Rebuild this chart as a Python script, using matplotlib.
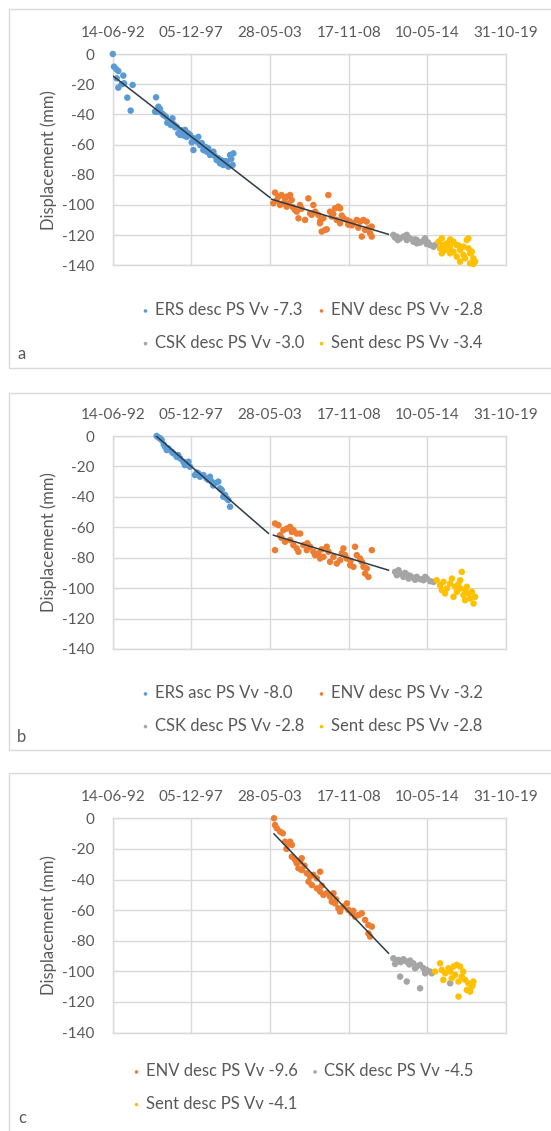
import matplotlib
matplotlib.use("Agg")
import matplotlib.pyplot as plt
from matplotlib.patches import Rectangle
from datetime import datetime
import numpy as np

plt.rcParams['font.family'] = ['Lato', 'DejaVu Sans']
plt.rcParams['axes.unicode_minus'] = False

# ---------------- data ----------------
tick_dates = ['14-06-92', '05-12-97', '28-05-03', '17-11-08', '10-05-14', '31-10-19']
y_ticks = [0, -20, -40, -60, -80, -100, -120, -140]
y_tick_labels = ['0', '-20', '-40', '-60', '-80', '-100', '-120', '-140']
colors = {'ERS': '#5B9BD5', 'ENV': '#ED7D31', 'CSK': '#A5A5A5', 'Sent': '#FFC000'}
trend_color = '#2E3A46'

# Panel a
a_labels = ['ERS desc PS Vv -7.3', 'ENV desc PS Vv -2.8', 'CSK desc PS Vv -3.0', 'Sent desc PS Vv -3.4']
a_ers_t = [1992.46, 1992.54, 1992.68, 1992.84, 1992.73, 1992.84, 1993.19, 1993.24, 1993.07, 1993.47,
           1993.70, 1993.84, 1995.47, 1995.40, 1995.63, 1995.74, 1995.56, 1996.15, 1996.38, 1996.61,
           1996.49, 1996.90, 1997.02, 1997.14, 1997.49, 1997.60, 1997.83, 1998.07, 1998.41, 1998.30,
           1998.07, 1998.53, 1998.76, 1999.00, 1999.23, 1999.46, 1999.69, 1999.92, 2000.15, 2000.39,
           2000.62, 2000.85, 2000.80, 2000.50, 1996.00, 1996.70, 1997.30, 1997.70, 1998.20, 1998.90,
           1999.10, 1999.55, 1999.80, 2000.05, 2000.30, 2000.70, 1995.90, 1996.25, 1997.95, 1998.65,
           1997.40, 1997.20, 1998.10, 1999.35, 2000.00, 1996.80]
a_ers_v = [0.0, -8.4, -9.9, -11.3, -16.1, -22.3, -14.3, -19.4, -20.0, -28.9,
           -37.5, -20.5, -28.7, -38.2, -34.9, -36.4, -38.2, -41.5, -44.8, -42.6,
           -47.0, -48.1, -52.5, -53.6, -50.3, -54.9, -53.6, -55.8, -54.9, -58.0,
           -63.6, -60.3, -63.6, -64.7, -66.9, -64.7, -70.2, -72.4, -73.5, -71.3,
           -66.9, -65.8, -73.5, -74.6, -40.5, -46.5, -51.0, -52.5, -57.0, -61.5,
           -62.5, -67.5, -69.0, -70.5, -71.0, -69.5, -39.5, -45.5, -58.5, -59.0,
           -54.0, -50.5, -56.5, -65.5, -72.0, -48.5]
a_env_t = [2003.75, 2003.63, 2003.98, 2004.20, 2004.45, 2004.56, 2004.80, 2004.91, 2004.10, 2004.33,
           2004.56, 2005.14, 2005.26, 2005.49, 2005.38, 2005.84, 2006.07, 2006.42, 2006.19, 2006.54,
           2006.77, 2006.88, 2007.00, 2007.23, 2007.35, 2007.46, 2007.12, 2007.58, 2007.70, 2007.93,
           2008.16, 2008.28, 2008.05, 2008.28, 2008.51, 2008.74, 2008.97, 2009.20, 2009.44, 2009.67,
           2009.90, 2010.13, 2009.79, 2010.02, 2010.25, 2010.37, 2010.48, 2010.48, 2003.85, 2005.60,
           2006.30, 2008.40, 2009.10, 2009.55, 2004.70, 2005.00, 2006.90, 2007.80, 2008.85]
a_env_v = [-91.8, -98.9, -94.5, -93.4, -95.6, -94.5, -93.4, -96.7, -100.0, -98.9,
           -101.1, -103.3, -104.4, -100.0, -108.8, -109.9, -95.6, -100.0, -105.5, -104.4,
           -106.6, -112.1, -117.6, -116.5, -116.1, -93.4, -108.8, -104.4, -107.7, -102.2,
           -101.1, -102.2, -109.9, -112.1, -108.8, -109.9, -111.0, -112.1, -109.9, -111.0,
           -109.9, -111.0, -120.9, -116.5, -115.4, -118.7, -114.3, -120.9, -97.0, -102.5,
           -106.5, -107.0, -113.5, -115.0, -99.0, -101.5, -110.5, -106.0, -113.0]
a_csk_t = [2011.99, 2012.22, 2012.46, 2012.69, 2012.92, 2013.15, 2013.38, 2013.62, 2013.85, 2014.08,
           2014.31, 2014.54, 2014.78, 2014.89, 2012.30, 2012.92, 2013.62, 2014.20, 2012.10, 2013.00,
           2013.50, 2014.40]
a_csk_v = [-119.8, -120.9, -122.1, -120.9, -123.2, -122.1, -124.3, -123.2, -124.9, -123.6,
           -125.8, -126.5, -127.6, -126.5, -123.2, -119.8, -125.4, -122.1, -121.5, -121.8,
           -122.8, -124.8]
a_sent_t = [2015.13, 2015.36, 2015.47, 2015.71, 2015.94, 2016.17, 2016.40, 2016.63, 2016.87, 2017.10,
            2017.21, 2017.33, 2017.45, 2017.56, 2017.33, 2016.98, 2016.63, 2016.40, 2015.94, 2015.59,
            2015.24, 2015.36, 2016.17, 2016.87, 2017.21, 2017.56, 2017.68, 2015.94, 2015.80, 2016.55]
a_sent_v = [-124.3, -122.1, -126.5, -125.4, -127.6, -124.3, -126.5, -129.8, -127.6, -123.2,
            -128.7, -132.0, -130.9, -135.3, -138.6, -135.3, -137.5, -134.2, -132.0, -129.8,
            -128.7, -132.0, -130.9, -133.1, -122.1, -139.0, -137.5, -122.8, -128.0, -127.0]
a_trend_t = [[1992.45, 2003.40], [2003.52, 2011.64]]
a_trend_v = [[-14.4, -95.1], [-96.2, -119.4]]

# Panel b
b_labels = ['ERS asc PS Vv -8.0', 'ENV desc PS Vv -3.2', 'CSK desc PS Vv -2.8', 'Sent desc PS Vv -2.8']
b_ers_t = [1995.51, 1995.63, 1995.74, 1995.86, 1996.09, 1996.21, 1996.32, 1996.56, 1996.67, 1996.90,
           1997.14, 1997.37, 1997.48, 1997.60, 1997.72, 1997.83, 1998.18, 1998.41, 1998.53, 1998.76,
           1998.99, 1999.11, 1999.22, 1999.34, 1999.57, 1999.80, 1999.92, 2000.04, 2000.15, 2000.27,
           2000.39, 2000.50, 2000.62, 1996.00, 1997.00, 1998.30, 1999.45]
b_ers_v = [0.0, -0.9, -1.5, -2.6, -7.0, -9.2, -8.1, -10.3, -11.4, -13.6,
           -14.7, -16.9, -19.1, -18.0, -16.9, -20.2, -25.7, -24.6, -26.8, -25.7,
           -27.9, -28.9, -26.8, -30.0, -31.1, -30.0, -34.4, -35.5, -39.9, -38.8,
           -41.0, -42.1, -46.5, -5.5, -12.5, -24.0, -32.5]
b_env_t = [2003.75, 2003.99, 2004.33, 2004.57, 2004.80, 2004.92, 2005.03, 2005.26, 2005.50, 2003.75,
           2004.10, 2004.45, 2004.80, 2005.03, 2005.26, 2005.38, 2005.73, 2005.96, 2006.19, 2006.42,
           2006.54, 2006.77, 2006.89, 2007.12, 2007.35, 2007.47, 2007.58, 2007.82, 2008.05, 2008.28,
           2008.51, 2008.63, 2008.74, 2008.98, 2009.21, 2009.32, 2009.44, 2009.67, 2009.79, 2009.91,
           2010.14, 2010.25, 2010.49, 2010.02, 2004.20, 2006.00, 2007.00, 2008.40, 2009.00]
b_env_v = [-57.5, -58.6, -61.9, -60.8, -59.7, -63.0, -61.9, -64.1, -64.1, -75.0,
           -65.2, -69.5, -68.4, -71.7, -73.9, -76.1, -71.7, -75.0, -72.8, -76.1,
           -78.3, -77.2, -80.5, -79.4, -72.8, -76.1, -82.7, -79.4, -83.8, -81.6,
           -73.9, -78.3, -80.5, -84.9, -86.0, -72.8, -78.3, -80.5, -82.7, -86.0,
           -87.1, -92.6, -75.0, -90.4, -67.0, -70.5, -74.5, -77.0, -82.0]
b_csk_t = [2012.11, 2012.23, 2012.46, 2012.69, 2012.92, 2013.16, 2013.39, 2013.62, 2013.85, 2014.08,
           2014.32, 2014.55, 2014.78, 2012.35, 2013.05, 2014.20, 2012.80, 2013.50]
b_csk_v = [-89.3, -91.5, -90.4, -92.6, -91.0, -91.9, -93.2, -92.6, -94.1, -94.8,
           -93.7, -95.4, -95.9, -88.2, -93.7, -92.6, -90.0, -94.5]
b_sent_t = [2015.01, 2015.24, 2015.48, 2015.71, 2015.94, 2016.06, 2016.29, 2016.41, 2016.64, 2016.75,
            2016.87, 2017.10, 2017.22, 2017.33, 2017.57, 2017.45, 2017.68, 2015.59, 2016.17, 2016.98,
            2016.64, 2015.36, 2016.50, 2017.00]
b_sent_v = [-94.8, -98.1, -95.9, -100.2, -97.0, -93.7, -99.1, -102.4, -100.2, -89.3,
            -104.6, -99.1, -103.5, -106.8, -110.1, -102.4, -105.7, -103.5, -105.7, -107.9,
            -94.8, -101.3, -97.5, -101.5]
b_trend_t = [[1995.39, 2003.29], [2003.64, 2011.65]]
b_trend_v = [[0.7, -64.0], [-65.2, -88.2]]

# Panel c
c_labels = ['ENV desc PS Vv -9.6', 'CSK desc PS Vv -4.5', 'Sent desc PS Vv -4.1']
c_env_t = [2003.68, 2003.75, 2003.87, 2004.10, 2004.29, 2004.45, 2004.68, 2004.80, 2004.92, 2004.92,
           2005.15, 2005.26, 2005.50, 2005.61, 2005.38, 2005.61, 2005.96, 2006.19, 2006.42, 2006.66,
           2006.89, 2006.08, 2006.31, 2006.66, 2006.89, 2007.12, 2007.35, 2007.58, 2007.82, 2007.70,
           2007.93, 2008.16, 2008.28, 2008.51, 2008.75, 2008.86, 2009.09, 2009.33, 2009.56, 2009.79,
           2010.02, 2010.25, 2010.49, 2010.37, 2010.25, 2004.55, 2005.80, 2007.00, 2008.00, 2009.20]
c_env_v = [0.0, -4.4, -6.5, -8.7, -9.8, -15.3, -16.3, -15.3, -17.4, -25.1,
           -27.2, -29.4, -28.3, -26.1, -32.7, -33.8, -35.9, -38.1, -37.0, -39.2,
           -34.9, -41.4, -43.6, -45.8, -47.9, -50.1, -49.0, -51.2, -49.0, -54.5,
           -55.6, -58.8, -61.0, -57.7, -55.6, -59.9, -62.1, -64.3, -63.2, -62.1,
           -66.4, -69.7, -70.8, -77.3, -75.2, -20.0, -31.0, -44.0, -53.0, -60.5]
c_csk_t = [2011.99, 2012.11, 2012.34, 2012.69, 2012.92, 2013.15, 2013.38, 2013.62, 2013.85, 2014.08,
           2014.31, 2014.54, 2014.66, 2012.46, 2012.92, 2013.85, 2013.50, 2014.20, 2015.94, 2012.50,
           2013.10]
c_csk_v = [-91.5, -95.2, -92.6, -92.1, -93.7, -93.0, -94.8, -96.9, -95.8, -98.0,
           -99.1, -100.2, -101.3, -103.5, -106.7, -111.1, -98.0, -101.3, -107.8, -94.0,
           -95.5]
c_sent_t = [2014.89, 2015.24, 2015.36, 2015.59, 2015.82, 2015.94, 2016.17, 2016.40, 2016.63, 2016.29,
            2016.05, 2016.52, 2016.75, 2016.98, 2017.21, 2017.45, 2017.33, 2017.10, 2017.56, 2017.50,
            2016.52, 2015.47, 2016.85]
c_sent_v = [-100.2, -94.8, -99.1, -101.3, -98.0, -100.2, -96.9, -95.8, -96.9, -102.4,
            -104.6, -106.7, -103.5, -105.6, -107.8, -110.0, -113.3, -112.2, -106.7, -108.9,
            -116.5, -105.6, -100.2]
c_trend_t = [[2003.68, 2011.65]]
c_trend_v = [[-10.2, -88.2]]


def dec_year(s):
    d = datetime.strptime(s, '%d-%m-%y')
    start = datetime(d.year, 1, 1)
    end = datetime(d.year + 1, 1, 1)
    return d.year + (d - start).total_seconds() / (end - start).total_seconds()


tick_pos = [dec_year(s) for s in tick_dates]

W, H = 551, 1131
fig = plt.figure(figsize=(W / 100, H / 100), dpi=100)
TXT = '#595959'
GRID = '#D9D9D9'

panels = [
    dict(box=(9, 9, 368), plot=(54, 265.4), letter='a', letter_y=354,
         series=[('ERS', a_ers_t, a_ers_v), ('ENV', a_env_t, a_env_v),
                 ('CSK', a_csk_t, a_csk_v), ('Sent', a_sent_t, a_sent_v)],
         labels=a_labels, trend=(a_trend_t, a_trend_v), leg_y=294, leg_x=133),
    dict(box=(9, 393, 750), plot=(436, 649), letter='b', letter_y=737,
         series=[('ERS', b_ers_t, b_ers_v), ('ENV', b_env_t, b_env_v),
                 ('CSK', b_csk_t, b_csk_v), ('Sent', b_sent_t, b_sent_v)],
         labels=b_labels, trend=(b_trend_t, b_trend_v), leg_y=677, leg_x=133),
    dict(box=(9, 773, 1140), plot=(818.3, 1032.5), letter='c', letter_y=1118,
         series=[('ENV', c_env_t, c_env_v), ('CSK', c_csk_t, c_csk_v),
                 ('Sent', c_sent_t, c_sent_v)],
         labels=c_labels, trend=(c_trend_t, c_trend_v), leg_y=1055, leg_x=124),
]

px_left, px_right = 112.7, 506.0

for p in panels:
    bx, btop, bbot = p['box']
    fig.patches.append(Rectangle((bx / W, 1 - bbot / H), (620 - bx) / W, (bbot - btop) / H,
                                 transform=fig.transFigure, fill=False, edgecolor='#D9D9D9',
                                 linewidth=1.0, clip_on=False))
    ptop, pbot = p['plot']
    ax = fig.add_axes([px_left / W, 1 - pbot / H, (px_right - px_left) / W, (pbot - ptop) / H])
    ax.set_xlim(tick_pos[0], tick_pos[-1])
    ax.set_ylim(-140, 0)
    ax.set_xticks(tick_pos)
    ax.set_xticklabels(tick_dates)
    ax.set_yticks(y_ticks)
    ax.set_yticklabels(y_tick_labels)
    ax.xaxis.tick_top()
    ax.tick_params(axis='both', length=0, labelsize=11, colors=TXT)
    ax.tick_params(axis='x', pad=10)
    ax.tick_params(axis='y', pad=13)
    ax.grid(True, color=GRID, linewidth=1.0)
    ax.set_axisbelow(True)
    for s in ax.spines.values():
        s.set_color(GRID)
        s.set_linewidth(1.0)
    handles = []
    for (name, t, v), lab in zip(p['series'], p['labels']):
        h = ax.scatter(t, v, s=22, color=colors[name], edgecolors='none', zorder=3,
                       clip_on=False, label=lab)
        handles.append(h)
    tt, tv = p['trend']
    for t, v in zip(tt, tv):
        ax.plot(t, v, color=trend_color, linewidth=1.1, zorder=4)
    fig.text(49 / W, 1 - ((ptop + pbot) / 2) / H, 'Displacement (mm)', rotation=90,
             ha='center', va='center', fontsize=12, color=TXT)
    fig.text(22 / W, 1 - p['letter_y'] / H, p['letter'], ha='center', va='center',
             fontsize=12, color=TXT)
    # row-major legend order (matplotlib fills columns first)
    order = list(range(0, len(handles), 2)) + list(range(1, len(handles), 2))
    fig.legend(handles=[handles[i] for i in order], labels=[p['labels'][i] for i in order],
               ncol=2, loc='upper left',
               bbox_to_anchor=(p['leg_x'] / W, 1 - p['leg_y'] / H),
               bbox_transform=fig.transFigure, frameon=False, fontsize=12,
               labelcolor=TXT, borderpad=0, handlelength=0.5, handletextpad=0.3,
               columnspacing=0.8, labelspacing=1.0, markerscale=0.55)

fig.savefig('out.png', dpi=100)
